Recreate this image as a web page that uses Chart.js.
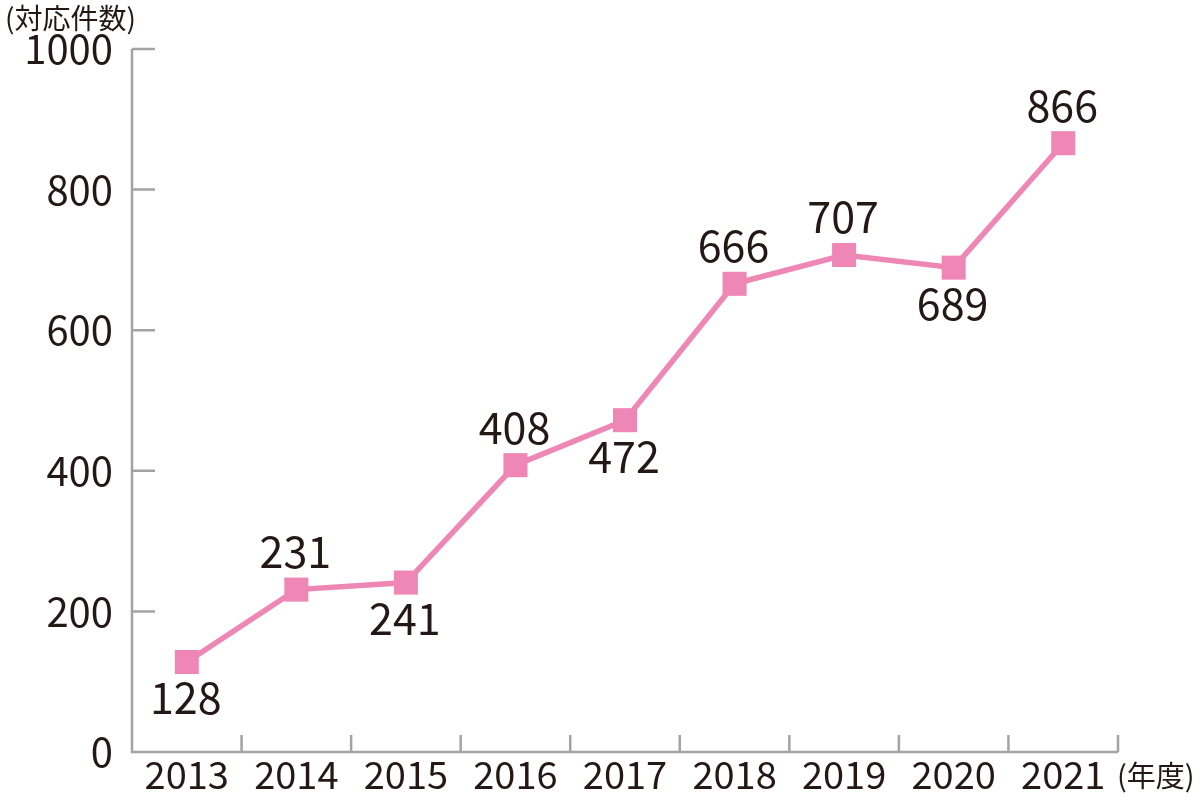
<!DOCTYPE html>
<html>
<head>
<meta charset="utf-8">
<script src="https://cdn.jsdelivr.net/npm/chart.js@4.4.1/dist/chart.umd.min.js"></script>
<style>
  body { margin: 0; background: #fff; }
  #wrap { width: 1200px; height: 798px; }
</style>
</head>
<body>
<div id="wrap"><canvas id="lineChart" width="1200" height="798"></canvas></div>
<script>
// Chart data
const years = ['2013', '2014', '2015', '2016', '2017', '2018', '2019', '2020', '2021'];
const counts = [128, 231, 241, 408, 472, 666, 707, 689, 866];
const yTicks = [0, 200, 400, 600, 800, 1000];

const textColor = '#231815';
const pink = '#ee87b5';
const axisColor = '#a3a3a3';
const fontFamily = '"Noto Sans CJK JP", "Noto Sans", sans-serif';

// where each value label sits relative to its point
const labelSide = ['below', 'above', 'below', 'above', 'below', 'above', 'above', 'below', 'above'];

// draws the axes with inward tick marks, and the unit captions
const axisPlugin = {
  id: 'axisPlugin',
  beforeDatasetsDraw(chart) {
    const ctx = chart.ctx;
    const area = chart.chartArea;
    const x = chart.scales.x;
    const y = chart.scales.y;
    ctx.save();
    ctx.strokeStyle = axisColor;
    ctx.lineWidth = 2.5;
    ctx.beginPath();
    ctx.moveTo(area.left, area.top);
    ctx.lineTo(area.left, area.bottom);
    ctx.lineTo(area.right, area.bottom);
    // y ticks point into the plot
    yTicks.forEach((v) => {
      if (v === 0) return;
      const py = y.getPixelForValue(v);
      ctx.moveTo(area.left, py);
      ctx.lineTo(area.left + 23, py);
    });
    // x ticks between categories
    for (let i = 0; i < years.length; i++) {
      let px;
      if (i < years.length - 1) {
        px = (x.getPixelForTick(i) + x.getPixelForTick(i + 1)) / 2;
      } else {
        px = area.right;
      }
      ctx.moveTo(px, area.bottom);
      ctx.lineTo(px, area.bottom - 17);
    }
    ctx.stroke();

    ctx.fillStyle = textColor;
    ctx.font = '28px ' + fontFamily;
    ctx.textBaseline = 'middle';
    ctx.textAlign = 'left';
    ctx.fillText('(対応件数)', 5, 18);
    ctx.font = '29px ' + fontFamily;
    ctx.fillText('(年度)', area.right - 1, 776);
    ctx.restore();
  },
  afterDatasetsDraw(chart) {
    const ctx = chart.ctx;
    const meta = chart.getDatasetMeta(0);
    ctx.save();
    ctx.fillStyle = textColor;
    ctx.font = '43px ' + fontFamily;
    ctx.textAlign = 'center';
    ctx.textBaseline = 'middle';
    meta.data.forEach((pt, i) => {
      const dy = labelSide[i] === 'above' ? -38 : 36;
      ctx.fillText(String(counts[i]), pt.x - 1, pt.y + dy);
    });
    ctx.restore();
  }
};

const ctx = document.getElementById('lineChart').getContext('2d');
const lineChart = new Chart(ctx, {
  type: 'line',
  data: {
    labels: years,
    datasets: [
      {
        data: counts,
        borderColor: pink,
        backgroundColor: pink,
        borderWidth: 5.5,
        pointStyle: 'rect',
        pointRadius: 17,
        pointHoverRadius: 17,
        pointBorderWidth: 0,
        tension: 0,
      },
    ],
  },
  options: {
    responsive: false,
    animation: false,
    layout: {
      padding: { top: 49, right: 82, left: 0, bottom: 0 },
    },
    plugins: {
      legend: { display: false },
      tooltip: { enabled: false },
    },
    scales: {
      x: {
        offset: true,
        grid: { display: false, drawTicks: false },
        border: { display: false },
        ticks: {
          color: textColor,
          font: { family: fontFamily, size: 38 },
          padding: 0,
          maxRotation: 0,
        },
        afterFit(scale) {
          scale.height = 46;
        },
      },
      y: {
        min: 0,
        max: 1000,
        grid: { display: false, drawTicks: false },
        border: { display: false },
        ticks: {
          stepSize: 200,
          color: textColor,
          font: { family: fontFamily, size: 40 },
          padding: 19,
          callback: (v) => String(v),
        },
        afterFit(scale) {
          scale.width = 132;
        },
      },
    },
  },
  plugins: [axisPlugin],
});
</script>
</body>
</html>
